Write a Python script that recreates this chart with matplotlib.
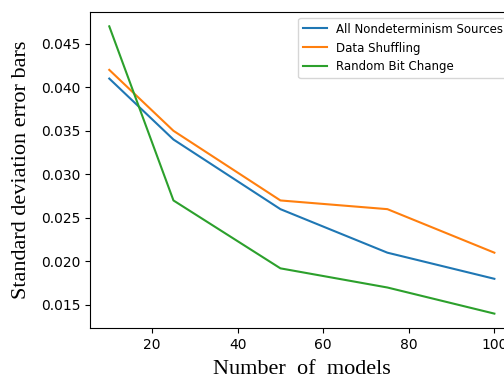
import matplotlib.pyplot as plt

n_models = [10, 25, 50, 75, 100]
all_sources = [0.041, 0.034, 0.026, 0.021, 0.018]
data_shuffling = [0.042, 0.035, 0.027, 0.026, 0.021]
random_bit = [0.047, 0.027, 0.0192, 0.017, 0.014]

fig = plt.figure(figsize=(5.04, 3.79), dpi=100)
# axes runs a little past the right edge, like the cropped original
ax = fig.add_axes([0.1786, 0.1346, 0.8405, 0.8338])

ax.plot(n_models, all_sources, label='All Nondeterminism Sources')
ax.plot(n_models, data_shuffling, label='Data Shuffling')
ax.plot(n_models, random_bit, label='Random Bit Change')

ax.legend(loc='upper right', fontsize=8.5)
ax.set_xlabel('Number  of  models', fontsize=16, family='Liberation Serif', labelpad=6)
ax.set_ylabel('Standard deviation error bars', fontsize=16, family='Liberation Serif', labelpad=7)

fig.savefig('out.png', dpi=100)
